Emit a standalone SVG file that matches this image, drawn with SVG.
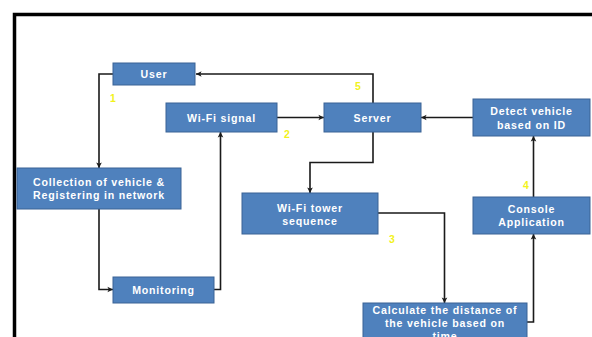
<svg xmlns="http://www.w3.org/2000/svg" width="592" height="337" viewBox="0 0 592 337">
  <style>
    .box { fill: #4f81bd; stroke: #3a6395; stroke-width: 1; }
    .lbl { font-family: "Liberation Sans", "Open Sans", sans-serif; font-weight: bold; font-size: 10.6px; letter-spacing: 0.8px; fill: #ffffff; text-anchor: middle; dominant-baseline: central; }
    .num { font-family: "Liberation Sans", sans-serif; font-weight: bold; font-size: 10.5px; fill: #f2f21a; text-anchor: middle; dominant-baseline: central; }
    .wire { fill: none; stroke: #1a1a1a; stroke-width: 1.6; }
  </style>
  <defs>
    <marker id="arrow" viewBox="0 0 10 10" refX="9" refY="5" markerWidth="7" markerHeight="7" markerUnits="userSpaceOnUse" orient="auto">
      <path d="M1,1 L9,5 L1,9 L3,5 Z" fill="#1a1a1a"/>
    </marker>
  </defs>
  <rect width="592" height="337" fill="#ffffff"/>
  <!-- outer frame -->
  <path d="M14.5,337 V14.5 H592" fill="none" stroke="#000" stroke-width="3.5"/>

  <g id="connectors">
    <path class="wire" d="M373,103 V74 H196" marker-end="url(#arrow)"/>
    <path class="wire" d="M113,74 H99 V168" marker-end="url(#arrow)"/>
    <path class="wire" d="M99,209 V289.5 H113" marker-end="url(#arrow)"/>
    <path class="wire" d="M214,289.5 H220.5 V132" marker-end="url(#arrow)"/>
    <path class="wire" d="M277,117.5 H324" marker-end="url(#arrow)"/>
    <path class="wire" d="M473,117.5 H421" marker-end="url(#arrow)"/>
    <path class="wire" d="M373,132 V162.5 H310 V193" marker-end="url(#arrow)"/>
    <path class="wire" d="M378,213 H444.5 V303" marker-end="url(#arrow)"/>
    <path class="wire" d="M527,322 H533.5 V234" marker-end="url(#arrow)"/>
    <path class="wire" d="M533.5,197 V136" marker-end="url(#arrow)"/>
  </g>

  <g id="user">
    <rect class="box" x="113" y="63" width="82" height="22"/>
    <text class="lbl" x="154" y="74">User</text>
  </g>
  <g id="wifi-signal">
    <rect class="box" x="166" y="103" width="111" height="29"/>
    <text class="lbl" x="221.5" y="117.5">Wi-Fi signal</text>
  </g>
  <g id="server">
    <rect class="box" x="324" y="103" width="97" height="29"/>
    <text class="lbl" x="372.5" y="117.5">Server</text>
  </g>
  <g id="detect">
    <rect class="box" x="473" y="99" width="117" height="37"/>
    <text class="lbl" x="531.5" y="111">Detect vehicle</text>
    <text class="lbl" x="531.5" y="124.5">based on ID</text>
  </g>
  <g id="collection">
    <rect class="box" x="17" y="168" width="164" height="41"/>
    <text class="lbl" x="99" y="182">Collection of vehicle &amp;</text>
    <text class="lbl" x="99" y="195">Registering in network</text>
  </g>
  <g id="monitoring">
    <rect class="box" x="113" y="277" width="101" height="26"/>
    <text class="lbl" x="163.5" y="290">Monitoring</text>
  </g>
  <g id="tower">
    <rect class="box" x="242" y="193" width="136" height="41"/>
    <text class="lbl" x="310" y="207.5">Wi-Fi tower</text>
    <text class="lbl" x="310" y="220.5">sequence</text>
  </g>
  <g id="console">
    <rect class="box" x="473" y="197" width="117" height="37"/>
    <text class="lbl" x="531.5" y="209">Console</text>
    <text class="lbl" x="531.5" y="222">Application</text>
  </g>
  <g id="calculate">
    <rect class="box" x="363" y="303" width="164" height="50"/>
    <text class="lbl" x="445" y="310">Calculate the distance of</text>
    <text class="lbl" x="445" y="323">the vehicle based on</text>
    <text class="lbl" x="445" y="336">time</text>
  </g>

  <g id="step-numbers">
    <text class="num" x="113" y="98">1</text>
    <text class="num" x="287" y="134">2</text>
    <text class="num" x="392" y="239">3</text>
    <text class="num" x="526" y="184.5">4</text>
    <text class="num" x="358" y="86">5</text>
  </g>
</svg>
